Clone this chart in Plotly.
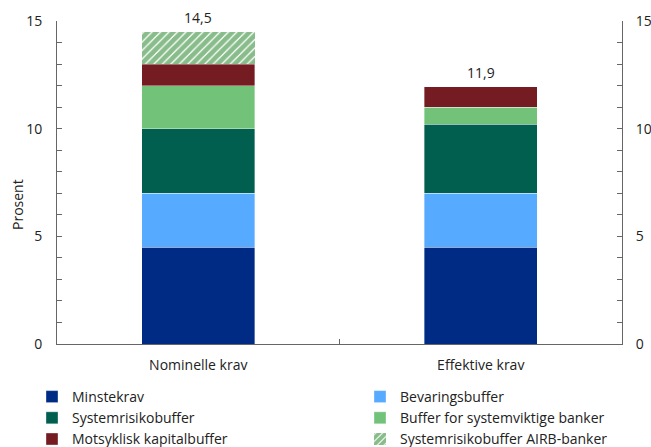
import plotly.graph_objects as go

categories = ["Nominelle krav", "Effektive krav"]
series_names = ["Minstekrav", "Bevaringsbuffer", "Systemrisikobuffer",
                "Buffer for systemviktige banker", "Motsyklisk kapitalbuffer",
                "Systemrisikobuffer AIRB-banker"]
minstekrav = [4.5, 4.5]
bevaring = [2.5, 2.5]
systemrisiko = [3.0, 3.2]
systemviktige = [2.0, 0.8]
motsyklisk = [1.0, 0.95]
airb = [1.5, 0.0]
total_labels = ["14,5", "11,9"]
y_title = "Prosent"
colors = ["#002b85", "#56aaff", "#005f4f", "#72c27a", "#751c22", "#137a18"]
legend_of = ["legend", "legend2", "legend", "legend2", "legend", "legend2"]

FONT = "Open Sans"
FS = 14
fig = go.Figure()
values = [minstekrav, bevaring, systemrisiko, systemviktige, motsyklisk, airb]
for i, (name, vals) in enumerate(zip(series_names, values)):
    if i == 5:
        marker = dict(color="white",
                      pattern=dict(shape="/", fgcolor=colors[i], bgcolor="white",
                                   size=6, solidity=0.8),
                      line=dict(width=0))
    else:
        marker = dict(color=colors[i], line=dict(width=0.6, color="rgba(255,255,255,0.6)"))
    fig.add_trace(go.Bar(x=categories, y=vals, name=name, marker=marker,
                         legend=legend_of[i], hoverinfo="skip"))

fig.add_trace(go.Scatter(x=categories, y=[None, None], yaxis="y2",
                         showlegend=False, hoverinfo="skip", mode="markers"))

totals = [sum(v[j] for v in values) for j in range(len(categories))]
for c, t, lab in zip(categories, totals, total_labels):
    fig.add_annotation(x=c, y=t, text=lab, showarrow=False, yshift=14,
                       font=dict(family=FONT, size=FS, color="#222"))

# y-axis title (placed as rotated text left of the axis)
fig.add_annotation(text=y_title, xref="paper", yref="paper",
                   x=(17 - 57) / 565, y=(344 - 205) / 323, textangle=-90,
                   showarrow=False, xanchor="center", yanchor="middle",
                   font=dict(family=FONT, size=FS, color="#222"))

axis_common = dict(range=[0, 15], tickvals=[0, 5, 10, 15], ticks="inside",
                   ticklen=5, tickcolor="#666", showline=True, linecolor="#666",
                   linewidth=1, showgrid=False, zeroline=False,
                   minor=dict(dtick=1, ticks="inside", ticklen=5, tickcolor="#666",
                              showgrid=False),
                   tickfont=dict(family=FONT, size=FS, color="#222"))

legend_common = dict(orientation="v", xref="container", yref="container",
                     xanchor="left", yanchor="top", y=1 - 381 / 447,
                     font=dict(family=FONT, size=FS, color="#222"),
                     traceorder="normal", itemwidth=30, bgcolor="rgba(0,0,0,0)")

fig.update_layout(
    width=651, height=447,
    margin=dict(l=57, r=29, t=21, b=103, autoexpand=False),
    paper_bgcolor="white", plot_bgcolor="white",
    barmode="stack", bargap=0.6,
    font=dict(family=FONT, size=FS, color="#222"),
    xaxis=dict(type="category", ticks="inside", tickson="boundaries", ticklen=5,
               tickcolor="#666", showline=True, linecolor="#666", linewidth=1,
               showgrid=False, tickfont=dict(family=FONT, size=FS, color="#222"),
               ticklabelstandoff=8),
    yaxis=dict(**axis_common, ticklabelstandoff=11),
    yaxis2=dict(**axis_common, ticklabelstandoff=10, overlaying="y", side="right"),
    legend=dict(**legend_common, x=32 / 651),
    legend2=dict(**legend_common, x=360 / 651),
)

fig.write_html("out.html")
